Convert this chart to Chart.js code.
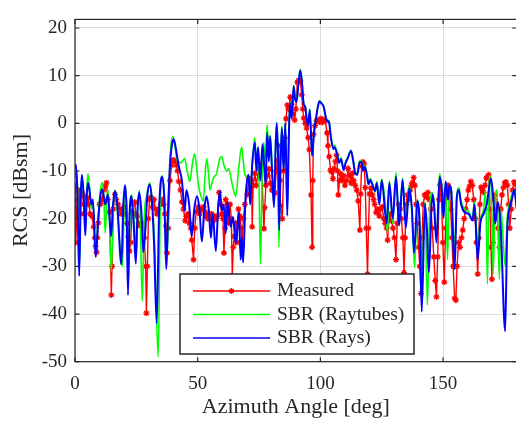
<!DOCTYPE html>
<html>
<head>
<meta charset="utf-8">
<title>RCS vs azimuth</title>
<script src="https://cdn.jsdelivr.net/npm/chart.js@4.4.1/dist/chart.umd.min.js"></script>
<style>
  html, body { margin: 0; padding: 0; background: #fff; overflow: hidden; }
  #wrap { width: 522px; height: 421px; }
</style>
</head>
<body>
<div id="wrap"><canvas id="rcsChart" width="522" height="421"></canvas></div>
<script>
// axis ticks
const xTicks = [0, 50, 100, 150];
const yTicks = [-50, -40, -30, -20, -10, 0, 10, 20];
const legendLabels = ['Measured', 'SBR (Raytubes)', 'SBR (Rays)'];
const seriesColors = ['#ff0000', '#00ff00', '#0000ff'];

// [azimuth deg, RCS dBsm]
const measured = [
  [0,-13],[0.3,-25],[0.7,-20],[1,-16],[1.5,-14],[2,-19],[2.5,-15],[3,-14.7],[3.5,-17],[3.8,-19],
  [4.3,-15.5],[4.8,-16.5],[5.2,-15.6],[5.7,-17],[6.2,-19],[6.9,-19.5],[7.6,-21.7],[8.1,-24],[8.4,-25.8],[8.8,-27],
  [9.1,-24],[9.5,-20.9],[10,-17],[10.5,-16.8],[11,-16],[11.6,-14],[12.3,-13.2],[12.8,-12.5],[13.4,-16],[14.1,-18.6],
  [14.8,-36],[15.1,-30],[15.6,-18],[16.3,-14.9],[16.8,-16],[17.5,-17],[18.3,-18],[18.8,-19],[19.4,-18],[20,-17.5],
  [20.5,-19],[21.2,-21],[21.7,-23.8],[22.2,-26.8],[22.7,-25],[23.2,-18.5],[23.8,-17],[24.3,-16.5],[24.8,-19],[25.4,-19.5],
  [26,-21],[26.6,-21.5],[27.2,-21],[27.7,-22],[28.2,-24],[28.8,-30],[29.1,-39.8],[29.5,-30],[29.9,-20],[30.4,-16],
  [30.9,-15.5],[31.6,-17.6],[32.2,-16],[32.8,-18],[33.4,-19],[34,-18],[34.9,-17],[35.5,-16],[36.1,-17],[36.6,-19],
  [37.1,-21.5],[37.5,-27.2],[38,-22],[38.7,-12],[39.4,-8.8],[40,-7.7],[40.6,-7.8],[41.3,-8.8],[41.8,-10],[42.3,-12.2],
  [43,-14],[43.6,-16.5],[44.2,-18],[44.9,-20.4],[45.4,-19.5],[46,-19],[46.6,-21],[47.2,-22],[47.6,-24.5],[48.3,-28.6],
  [48.8,-22],[49.4,-18.5],[50.3,-17.5],[50.8,-19],[51.3,-18],[51.8,-18],[52.4,-17.5],[53,-18.5],[53.5,-19.5],[54.1,-20],
  [54.6,-19],[55.2,-20],[55.7,-19],[56.3,-20.5],[56.9,-19.5],[57.5,-20],[58,-19.5],[58.7,-14.5],[59.3,-17],[59.8,-19],
  [60.3,-20],[60.7,-27.2],[61.1,-22],[61.4,-16],[62,-17],[62.5,-20.9],[63.2,-17],[63.7,-20],[64.1,-32],[64.5,-26],
  [64.9,-23.7],[65.5,-20.9],[66,-25],[66.6,-18],[67.3,-19.5],[67.7,-22],[68.1,-25.8],[68.6,-20],[69.2,-17],[70.2,-14.9],
  [70.8,-11.5],[71.4,-12.5],[72,-12],[72.2,-21.7],[72.6,-13],[73.3,-10.5],[73.9,-13],[74.9,-9.5],[75.5,-11],[76,-8.5],
  [77,-22.1],[77.3,-17.7],[77.8,-13],[78.5,-11],[79,-9.6],[79.6,-12.6],[80.2,-14],[80.8,-13],[81.4,-14.6],[82,-10],
  [82.5,-7.8],[83,-4.7],[83.5,-12],[83.8,-17.3],[84.5,-20],[85,-10],[85.5,-3],[86,1],[86.5,3.8],[87,3],
  [87.7,5.5],[88.3,4],[88.9,2],[89.5,0.7],[90,3],[90.6,8.6],[91.1,9],[91.8,8.9],[92.4,6],[92.8,3],
  [93.2,1.1],[93.8,0],[94.4,-1],[95,-3],[95.5,-5.5],[96.2,-15],[96.6,-26],[96.9,-12],[97.2,-2.3],[97.8,-0.5],
  [98.4,0.5],[99,0.7],[99.6,0.3],[100.2,1],[100.8,0.2],[101.4,0.8],[102,0.5],[102.7,-2],[103.1,-4.7],[103.6,-7],
  [104.1,-9.8],[104.6,-10.2],[105.1,-11.6],[105.6,-9.5],[106.1,-8],[106.6,-6.7],[107,-10],[107.3,-15],[107.8,-12],[108.3,-10.6],
  [108.9,-12],[109.5,-11],[110,-13],[110.7,-12],[111.3,-9.5],[111.9,-11],[112.5,-12.5],[113,-10.5],[113.6,-12],[114.2,-13],
  [114.8,-14],[115.4,-16.3],[116.1,-22.4],[116.4,-14.8],[116.8,-9],[117.3,-8.1],[117.8,-8.5],[118.3,-13.5],[118.7,-22],[119.2,-31.6],
  [119.6,-22],[120,-14.8],[120.6,-13.6],[121.2,-15],[121.7,-16],[122.1,-17],[122.7,-18.7],[123.3,-18],[124,-19.4],[124.6,-18],
  [125.2,-17.5],[125.8,-20],[126.4,-21],[127,-22],[127.4,-24.5],[127.9,-20],[128.5,-19],[129,-20.5],[129.6,-22],[130.2,-24],
  [130.8,-28.6],[131.3,-21],[131.9,-17],[132.5,-18],[133,-20],[133.6,-24],[134.1,-31.3],[134.5,-24],[135,-17],[135.5,-15],
  [136,-16],[136.6,-14],[137.1,-13],[137.5,-12.5],[138,-11.4],[138.5,-13],[139,-17],[139.5,-21],[140,-26],[140.5,-30],
  [141,-35.7],[141.4,-24],[141.9,-17],[142.5,-15],[143.2,-15.5],[143.8,-14.5],[144.4,-16],[145,-18],[145.6,-22],[146.2,-28],
  [146.8,-33],[147.3,-36.4],[147.8,-28],[148.3,-16],[148.7,-12.9],[149.3,-15],[149.9,-25],[150.5,-33.3],[151,-22],[151.5,-14],
  [152,-13],[152.6,-14.5],[153.1,-18],[153.6,-24],[154.1,-30],[154.7,-36.7],[155.2,-37.1],[155.7,-30],[156.3,-25],[156.9,-26],
  [157.5,-24],[158,-22.4],[158.6,-20],[159.2,-18],[159.8,-16],[160.3,-14],[160.8,-13.2],[161.3,-12.2],[161.9,-13],[162.5,-16],
  [163.1,-20],[163.6,-25],[164.1,-31.6],[164.5,-24],[165,-17],[165.5,-13.4],[166,-14],[166.6,-14.5],[167.1,-13],[167.6,-11.5],
  [168.1,-11.2],[168.6,-10.8],[169.1,-18],[169.5,-26],[169.9,-32.7],[170.3,-25],[170.7,-16],[171.3,-15],[171.8,-18],[172.4,-22],
  [173,-26],[173.5,-18],[174,-15],[174.6,-13.5],[175.1,-12.5],[175.6,-12.3],[176.2,-13],[176.7,-17],[177.2,-22],[177.8,-18],
  [178.3,-14],[178.9,-12.3],[179.4,-12.8],[180,-14]
];

const raytubes = [
  [0,-11.5],[0.6,-10],[1.2,-16],[1.8,-30],[2.4,-15],[2.9,-11.5],[3.6,-16],[4.3,-21],[4.9,-13],[5.3,-10.6],
  [6,-14],[6.7,-18],[7.4,-17],[8.5,-27],[9.5,-19],[10.3,-14],[11.1,-12.5],[11.8,-16],[12.3,-23],[13,-16],
  [13.5,-14],[14.8,-31],[15.6,-18],[16.4,-14],[17.2,-18],[19.3,-30],[20.1,-16],[20.6,-13.5],[21.2,-19],[21.8,-33],
  [22.4,-19],[23.1,-15],[24.2,-21],[25,-27],[25.6,-17],[26.3,-14],[27.4,-37.4],[28.2,-20],[29.5,-14.5],[30.4,-12.5],
  [31.4,-16],[32.4,-25],[33.9,-49],[34.8,-16],[35.6,-11],[36.5,-16],[37.4,-30],[38.2,-15],[38.9,-6],[39.8,-2.7],
  [40.7,-4.5],[41.5,-7.6],[42.2,-8.1],[43.1,-8.3],[44.7,-7.4],[45.7,-10],[46.8,-12.2],[47.7,-9],[48.7,-6.4],[49.5,-9],
  [50.3,-12.9],[51.2,-15],[52.3,-16.3],[53,-11],[53.7,-7.4],[54.5,-11],[55,-14],[55.8,-12.5],[56.4,-11.5],[57.7,-10.5],
  [59,-7.4],[59.8,-7],[60.7,-8.8],[61.8,-10],[62.6,-9.5],[64.1,-12.9],[65.5,-15.3],[66.6,-10],[67.9,-5],[68.6,-8],
  [69.3,-10.8],[70.7,-11.5],[71.5,-14],[72.3,-8],[73.3,-3],[74,-9],[74.7,-6],[75.6,-29.6],[76.3,-10],[76.9,-4],
  [77.5,-8],[78.3,-0.3],[79,-7],[79.6,-2.5],[80.4,-11],[81.1,-17],[81.7,-5],[82.2,0.2],[82.6,-6],[83.1,-26],
  [83.7,-8],[84.3,-0.5],[85,-9],[85.7,0.3],[86.5,-18],[87.1,-3],[87.6,4.5],[88.3,1.5],[89.1,8],[89.7,5.5],
  [90.3,5],[91,8.5],[91.8,11.4],[92.5,8.8],[93.2,4.2],[93.8,3.6],[94.4,1.2],[95,-0.3],[95.7,3],[96.6,-6.5],
  [97.4,-1.8],[98.2,1.2],[99,3.7],[99.6,4.8],[100.4,4.4],[101.3,3.6],[102.6,0.8],[103.5,0.5],[104.3,-2.8],[105.3,-4.9],
  [105.8,-4.6],[106.8,-6.2],[107.6,-8],[108.4,-7.2],[109.5,-9.5],[110.3,-8],[111.1,-7.2],[112.5,-5.6],[113.4,-7.8],[114.2,-10.2],
  [115,-10.5],[116,-7.8],[116.8,-7.9],[117.4,-9.8],[118.1,-8.8],[119,-10.8],[119.6,-12.5],[120.3,-11.6],[121.3,-12.8],[122.3,-14.5],
  [123,-12.2],[124,-16],[125,-11.7],[126.3,-16],[127.4,-23.1],[128.1,-12],[129.5,-21],[130.8,-10.3],[132.1,-21],[133.5,-11.5],
  [134.8,-21],[136.2,-13],[137.3,-19],[138.4,-30.3],[139.5,-16],[140.5,-20],[141.3,-33],[142.6,-16.5],[143.6,-38.1],[144.6,-17],
  [145.6,-14.5],[146.3,-16.5],[147.3,-24],[148.6,-10.5],[149.5,-13.5],[150.2,-18],[151,-13],[151.8,-28.6],[152.6,-13],[153.3,-14],
  [154.7,-26],[155.6,-15],[156.5,-13.5],[157.2,-16],[158.8,-18],[160.4,-18.5],[162,-20],[162.8,-16.5],[164.1,-25],[165.2,-20],
  [166.5,-18],[167.3,-14],[168.1,-33.7],[168.8,-11],[169.5,-12],[170.4,-31.6],[171.2,-16],[172,-14],[172.9,-32.7],[173.6,-18],
  [175.3,-30],[176.1,-20],[177,-17],[178,-15],[179,-14],[180,-17]
];

const rays = [
  [0,-9.5],[0.4,-8.7],[1,-15],[1.7,-32],[2.3,-16],[2.8,-10.8],[3.5,-15],[4.2,-23.5],[4.8,-15],[5.3,-12.5],
  [6,-14.5],[6.6,-17],[7.3,-16],[8.4,-28],[9.5,-20],[10.4,-15],[11.2,-13.9],[12.3,-17],[13.4,-15],[14.7,-23.7],
  [15.5,-17],[16.3,-14.2],[17.2,-17],[18.9,-29.6],[19.7,-17],[20.4,-13],[21,-18],[21.6,-36],[22.2,-20],[23,-15.3],
  [23.8,-20],[24.8,-29.4],[25.5,-18],[26.2,-14.5],[27.1,-19],[27.8,-27],[28.7,-22],[29.5,-15],[30.4,-12.9],[31.3,-16],
  [32.2,-25],[33.3,-42],[34.3,-18],[35.5,-11.2],[36.4,-16],[37.2,-30.6],[38,-17],[38.8,-8],[39.5,-4.5],[40.2,-3.3],
  [41,-5],[42.2,-8.8],[43.6,-12.2],[44.7,-18.3],[45.4,-14],[46.5,-17],[47.6,-23.7],[48.6,-18],[49.7,-15.3],[50.7,-18],
  [51.7,-24.8],[52.7,-18],[53.6,-15.3],[54.5,-18],[55.4,-24],[56.1,-19],[57.4,-26.8],[58.3,-18],[59.1,-14.2],[59.8,-18.3],
  [60.6,-17],[61.4,-23.1],[62.2,-16.5],[63.4,-21.7],[64.4,-19.7],[65.5,-25.2],[66.8,-18.7],[67.5,-28.6],[68,-24],[68.5,-29.2],
  [69.5,-15.6],[70.7,-10.8],[71.4,-17],[72.2,-8.8],[73.3,-4],[73.9,-10],[74.6,-5],[75.5,-12],[76.4,-4.4],[77.1,-9],
  [77.7,-13],[78.3,-2],[79,-8],[79.5,-2.7],[80.3,-10],[81.1,-17.6],[81.7,-6],[82.2,0],[82.8,-8],[83.2,-22.4],
  [83.8,-8],[84.3,-1],[85,-10],[85.7,0],[86.5,-19.4],[87.1,-4],[87.6,4.2],[88.3,1],[89.1,7.8],[89.7,5],
  [90.3,4.5],[91,8],[91.8,11.1],[92.5,8.5],[93.2,4],[93.8,3.5],[94.4,1],[95,-0.5],[95.7,2.8],[96.6,-6.8],
  [97.4,-2],[98.2,1],[99,3.5],[99.6,4.6],[100.4,4.2],[101.3,3.5],[102.6,0.6],[103.5,0.3],[104.3,-3],[105.3,-5.4],
  [105.8,-5],[106.8,-6.5],[107.6,-8.3],[108.4,-7.5],[109.5,-9.8],[110.3,-8.3],[111.1,-7.4],[112.5,-5.8],[113.4,-8],[114.2,-10.5],
  [115,-10.8],[116,-8.2],[116.8,-8.1],[117.4,-10],[118.1,-9.1],[119,-11],[119.6,-12.8],[120.3,-11.9],[121.3,-13],[122.3,-14.2],
  [123,-12.5],[124,-17],[125,-12],[127,-21],[128.1,-12.5],[129.5,-20],[130.8,-11.2],[132.1,-21.4],[133.5,-11.9],[134.8,-21.9],
  [136.2,-13.6],[137.3,-18],[138.2,-27.2],[139.5,-16.3],[140.5,-22],[141.3,-39.5],[142.6,-16.9],[143.4,-22],[144.2,-31.3],[145.6,-14.9],
  [146.3,-17],[147.3,-25],[148.6,-11.2],[149.5,-14],[150.2,-19.8],[151,-12.2],[152,-16],[152.6,-13],[153.3,-14],[154.7,-30.6],
  [155.6,-15.6],[156.5,-14],[157.2,-16.6],[158.8,-18.7],[160.4,-19],[162,-20.4],[162.8,-17],[164.1,-28.6],[165.2,-21],[166.5,-19],
  [167.8,-17],[169.5,-11.5],[170.6,-16.5],[171.3,-21],[172.3,-16.5],[173.5,-22],[175.3,-43.6],[176.1,-23],[177,-18],[178,-16],
  [179,-14],[180,-18]
];

const serif = '"Liberation Serif", "Times New Roman", serif';
const inkColor = '#262626';
const toPoints = arr => arr.map(p => ({ x: p[0], y: p[1] }));

// box outline, inward ticks and the legend inside the axes
const framePlugin = {
  id: 'frame',
  afterDraw(chart) {
    const { ctx, chartArea: a, scales: { x, y } } = chart;
    const tl = 4.5;
    ctx.save();
    ctx.strokeStyle = inkColor;
    ctx.lineWidth = 1.2;
    ctx.beginPath();
    xTicks.forEach(v => {
      const px = x.getPixelForValue(v);
      ctx.moveTo(px, a.bottom); ctx.lineTo(px, a.bottom - tl);
      ctx.moveTo(px, a.top); ctx.lineTo(px, a.top + tl);
    });
    yTicks.forEach(v => {
      const py = y.getPixelForValue(v);
      ctx.moveTo(a.left, py); ctx.lineTo(a.left + tl, py);
      ctx.moveTo(a.right, py); ctx.lineTo(a.right - tl, py);
    });
    ctx.stroke();
    ctx.strokeRect(a.left, a.top, a.right - a.left, a.bottom - a.top);

    // legend
    const box = { x: 180, y: 274, w: 234, h: 80 };
    ctx.fillStyle = '#fff';
    ctx.fillRect(box.x, box.y, box.w, box.h);
    ctx.lineWidth = 1.5;
    ctx.strokeRect(box.x, box.y, box.w, box.h);
    const rowY = [291, 314.5, 338];
    const widths = [1.5, 1.6, 1.6];
    legendLabels.forEach((label, i) => {
      ctx.strokeStyle = seriesColors[i];
      ctx.lineWidth = widths[i];
      ctx.beginPath();
      ctx.moveTo(193, rowY[i]);
      ctx.lineTo(270, rowY[i]);
      ctx.stroke();
      if (i === 0) {
        ctx.lineWidth = 1.3;
        Chart.helpers.drawPoint(ctx, { pointStyle: 'star', radius: 3, borderWidth: 1.3 }, 231.5, rowY[i]);
      }
      ctx.fillStyle = inkColor;
      ctx.font = '19.5px ' + serif;
      ctx.textBaseline = 'middle';
      ctx.textAlign = 'left';
      ctx.fillText(label, 277, rowY[i]);
    });
    ctx.restore();
  }
};

const ctx = document.getElementById('rcsChart').getContext('2d');
const rcsChart = new Chart(ctx, {
  type: 'line',
  data: {
    datasets: [
      {
        label: legendLabels[0],
        data: toPoints(measured),
        borderColor: seriesColors[0],
        borderWidth: 1.4,
        pointStyle: 'star',
        pointRadius: 3,
        pointBorderWidth: 1.3,
        pointBorderColor: seriesColors[0],
        pointBackgroundColor: seriesColors[0],
        tension: 0,
        order: 2
      },
      {
        label: legendLabels[1],
        data: toPoints(raytubes),
        borderColor: seriesColors[1],
        borderWidth: 1.6,
        pointRadius: 0,
        cubicInterpolationMode: 'monotone',
        order: 1
      },
      {
        label: legendLabels[2],
        data: toPoints(rays),
        borderColor: seriesColors[2],
        borderWidth: 2,
        pointRadius: 0,
        cubicInterpolationMode: 'monotone',
        order: 0
      }
    ]
  },
  options: {
    responsive: false,
    animation: false,
    devicePixelRatio: 1,
    layout: { padding: { top: 10.3, right: 2.4, left: 0, bottom: 0 } },
    plugins: {
      legend: { display: false },
      tooltip: { enabled: false }
    },
    scales: {
      x: {
        type: 'linear',
        min: 0,
        max: 180,
        afterBuildTicks: s => { s.ticks = xTicks.map(v => ({ value: v })); },
        afterFit: s => { s.height = 59.3; },
        grid: { color: 'rgba(0,0,0,0.13)', drawTicks: false },
        border: { display: false },
        ticks: { color: inkColor, font: { family: serif, size: 19 }, padding: 11, maxRotation: 0 },
        title: {
          display: true,
          text: 'Azimuth Angle [deg]',
          color: inkColor,
          font: { family: serif, size: 22 },
          padding: { top: 0, bottom: 1 }
        }
      },
      y: {
        min: -50,
        max: 21.8,
        afterBuildTicks: s => { s.ticks = yTicks.map(v => ({ value: v })); },
        afterFit: s => { s.width = 75; },
        grid: { color: 'rgba(0,0,0,0.13)', drawTicks: false },
        border: { display: false },
        ticks: { color: inkColor, font: { family: serif, size: 19 }, padding: 8 },
        title: {
          display: true,
          text: 'RCS [dBsm]',
          color: inkColor,
          font: { family: serif, size: 22 },
          padding: { top: 8, bottom: 0 }
        }
      }
    }
  },
  plugins: [framePlugin]
});
</script>
</body>
</html>
